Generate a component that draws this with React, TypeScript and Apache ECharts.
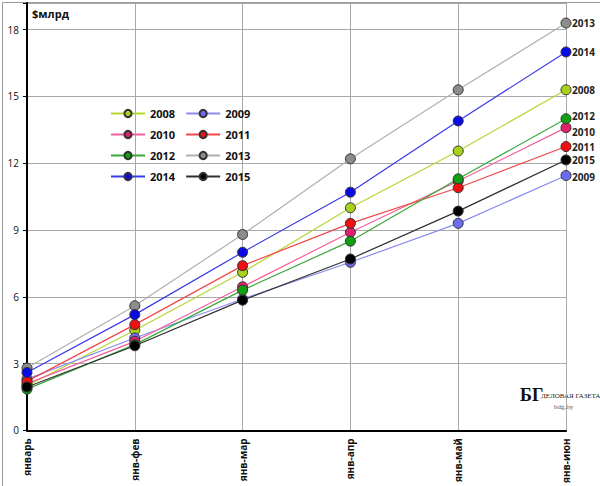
import { useEffect, useRef } from "react";
import * as echarts from "echarts";

const CATEGORIES = ["январь", "янв-фев", "янв-мар", "янв-апр", "янв-май", "янв-июн"];
const Y_TICKS = [0, 3, 6, 9, 12, 15, 18];

const S2008 = [2.0, 4.5, 7.1, 10.0, 12.55, 15.3];
const S2009 = [2.3, 4.15, 5.9, 7.55, 9.3, 11.45];
const S2010 = [2.1, 4.0, 6.45, 8.9, 11.2, 13.6];
const S2011 = [2.2, 4.75, 7.4, 9.3, 10.9, 12.75];
const S2012 = [1.85, 3.85, 6.3, 8.5, 11.3, 14.0];
const S2013 = [2.8, 5.6, 8.8, 12.2, 15.3, 18.3];
const S2014 = [2.6, 5.2, 8.0, 10.7, 13.9, 17.0];
const S2015 = [1.95, 3.8, 5.85, 7.7, 9.85, 12.15];

const SERIES = [
  { name: "2008", data: S2008, line: "#b5d630", dot: "#a8d21a" },
  { name: "2009", data: S2009, line: "#8c8cf0", dot: "#6c6cf0" },
  { name: "2010", data: S2010, line: "#f0609a", dot: "#e0206a" },
  { name: "2011", data: S2011, line: "#f04848", dot: "#f01010" },
  { name: "2012", data: S2012, line: "#3aa83a", dot: "#10a010" },
  { name: "2013", data: S2013, line: "#b0b0b0", dot: "#8c8c8c" },
  { name: "2014", data: S2014, line: "#3a3ae8", dot: "#0a0ae8" },
  { name: "2015", data: S2015, line: "#303030", dot: "#000000" },
];

// end labels nudged vertically where points crowd
const LABEL_NUDGE: Record<string, number> = { "2012": -3, "2010": 4, "2009": 2 };

export default function App() {
  const ref = useRef<HTMLDivElement>(null);

  useEffect(() => {
    const el = ref.current;
    if (!el) return;
    const chart = echarts.init(el, null, { renderer: "svg" });
    const font = "'Open Sans', 'DejaVu Sans', sans-serif";
    chart.setOption({
      animation: false,
      backgroundColor: "#fff",
      textStyle: { fontFamily: font },
      grid: { left: 27, right: 34, top: 3, bottom: 55 },
      legend: {
        left: 105,
        top: 103,
        width: 170,
        itemWidth: 34,
        itemHeight: 9,
        itemGap: 10,
        textStyle: { fontSize: 11, color: "#111", width: 40, fontWeight: "bold" },
        data: SERIES.map((s) => s.name),
      },
      xAxis: {
        type: "category",
        data: CATEGORIES,
        boundaryGap: false,
        axisLine: { lineStyle: { color: "#000", width: 2 } },
        axisTick: { show: false },
        axisLabel: { rotate: 90, fontSize: 10, fontWeight: "bold", color: "#111", margin: 8 },
        splitLine: { show: true, lineStyle: { color: "#a8a8a8", width: 1 } },
      },
      yAxis: {
        type: "value",
        min: Y_TICKS[0],
        max: 19.2,
        interval: 3,
        axisLine: { show: true, lineStyle: { color: "#000", width: 2 } },
        axisTick: { show: true, length: 4, lineStyle: { color: "#000" } },
        axisLabel: {
          fontSize: 10, color: "#111", margin: 8,
          formatter: (v: number) => (Y_TICKS.includes(v) ? String(v) : ""),
        },
        splitLine: { lineStyle: { color: "#a8a8a8", width: 1 } },
      },
      series: SERIES.map((s) => ({
        name: s.name,
        type: "line",
        data: s.data,
        symbol: "circle",
        symbolSize: 10,
        lineStyle: { color: s.line, width: 1.2 },
        itemStyle: { color: s.dot, borderColor: "#333", borderWidth: 1 },
        endLabel: {
          show: true,
          formatter: s.name,
          fontSize: 10,
          fontWeight: "bold",
          color: "#222",
          distance: 6,
          offset: [0, LABEL_NUDGE[s.name] ?? 0],
        },
      })),
      graphic: [
        { type: "rect", left: 0, top: 0, shape: { width: 599, height: 485 }, style: { fill: "none", stroke: "#999", lineWidth: 1 } },
        { type: "text", left: 32, top: 8, style: { text: "$млрд", fontSize: 11, fontWeight: "bold", fill: "#111", fontFamily: font } },
        { type: "text", left: 520, top: 386, style: { text: "БГ", fontSize: 18, fontWeight: "bold", fill: "#111", fontFamily: "'Liberation Serif', serif" } },
        { type: "text", left: 541, top: 392, style: { text: "ДЕЛОВАЯ ГАЗЕТА", fontSize: 7, fill: "#222", fontFamily: "'Liberation Sans Narrow', 'Liberation Serif', serif" } },
        { type: "text", left: 554, top: 403, style: { text: "bdg.by", fontSize: 7, fill: "#555", fontFamily: "'Liberation Serif', serif" } },
      ],
    });
    return () => chart.dispose();
  }, []);

  return <div ref={ref} style={{ position: "fixed", left: 0, top: 0, width: 600, height: 486 }} />;
}
